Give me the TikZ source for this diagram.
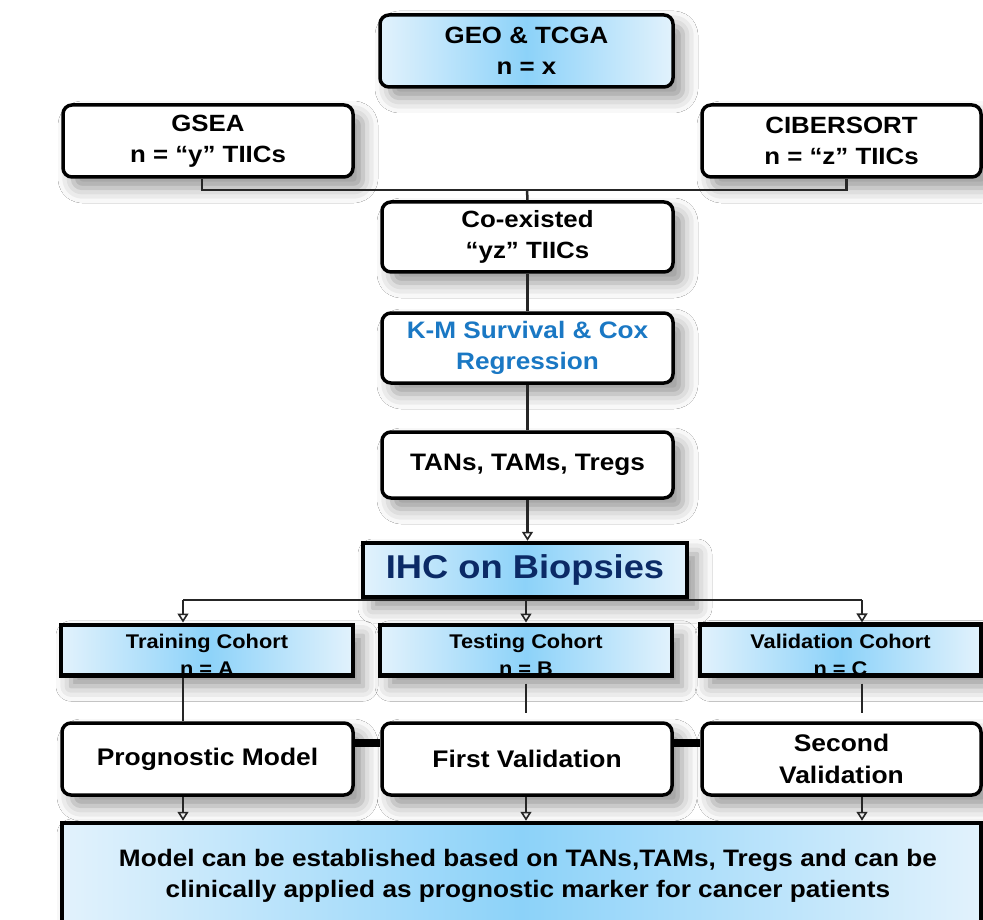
\documentclass[tikz,border=0pt]{standalone}
\usepackage{fontspec}
\setmainfont{Liberation Sans}[FakeStretch=1.1]
\usetikzlibrary{arrows.meta,shadows.blur}
\definecolor{edgeblue}{HTML}{E2F2FC}
\definecolor{midblue}{HTML}{8CD2F9}
\definecolor{kmblue}{HTML}{1A78C4}
\definecolor{ihcblue}{HTML}{0B2A66}
\tikzset{
  shad/.style={blur shadow={shadow xshift=10pt, shadow yshift=-11pt, shadow blur radius=15pt, shadow opacity=42}},
  rbox/.style={draw=black, line width=3.5pt, rounded corners=9pt, fill=white, align=center, inner sep=0pt, shad,
    font=\bfseries\fontsize{23.5}{31}\selectfont},
  gbox/.style={left color=edgeblue, right color=edgeblue, middle color=midblue},
  sbox/.style={draw=black, line width=4.5pt, align=center, inner sep=0pt, shad, gbox},
  cohort/.style={sbox, minimum height=50pt, font=\bfseries\fontsize{19.8}{26.5}\selectfont},
  conn/.style={draw=black!85, line width=2.5pt},
  arr/.style={conn, -{Triangle[open, length=9pt, width=11pt, line width=1.6pt]}},
  link/.style={draw=black, line width=8pt}
}
\newcommand{\cstrut}{\rule{0pt}{24pt}}
\begin{document}
\begin{tikzpicture}[x=1pt, y=1pt]
\useasboundingbox (0,0) rectangle (983,-920);
\fill[white] (0,0) rectangle (983,-920);

% top
\node[rbox, gbox, minimum width=293pt, minimum height=72pt] (geo) at (526.5,-51) {GEO \& TCGA\\n = x};
\node[rbox, minimum width=290pt, minimum height=72pt] (gsea) at (208,-141) {GSEA\\n = “y” TIICs};
\node[rbox, minimum width=279pt, minimum height=72pt] (cib) at (841.5,-141) {CIBERSORT\\n = “z” TIICs};
\node[rbox, minimum width=291pt, minimum height=70pt] (co) at (527.5,-237) {Co-existed\\“yz” TIICs};
\node[rbox, minimum width=291pt, minimum height=70pt, text=kmblue, font=\bfseries\fontsize{23.8}{31}\selectfont] (km) at (527.5,-348) {K-M Survival \& Cox\\Regression};
\node[rbox, minimum width=291pt, minimum height=66pt, font=\bfseries\fontsize{23.8}{31}\selectfont] (tans) at (527.5,-465) {TANs, TAMs, Tregs};

\node[sbox, minimum width=324pt, minimum height=54pt, text=ihcblue, font=\bfseries\fontsize{33}{38}\selectfont] (ihc) at (525,-570) {IHC on Biopsies};

% cohorts
\node[cohort, minimum width=292pt] (train) at (207,-650) {\cstrut Training Cohort\\n = A};
\node[cohort, minimum width=292pt] (test) at (526,-650) {\cstrut Testing Cohort\\n = B};
\node[cohort, minimum width=281pt] (valid) at (840.5,-650) {\cstrut Validation Cohort\\n = C};

% results row
\node[rbox, minimum width=291pt, minimum height=72pt, font=\bfseries\fontsize{24}{32}\selectfont] (prog) at (207.5,-759) {Prognostic Model};
\node[rbox, minimum width=290pt, minimum height=72pt, font=\bfseries\fontsize{24}{32}\selectfont] (first) at (527,-759) {First Validation};
\node[rbox, minimum width=279pt, minimum height=72pt, font=\bfseries\fontsize{24}{32}\selectfont] (second) at (841.5,-759) {Second\\Validation};

% bottom
\node[sbox, minimum width=919pt, minimum height=112pt] (final) at (521.5,-879) {};
\node[align=center, font=\bfseries\fontsize{23.8}{31}\selectfont, inner sep=0pt] (finaltext) at (528,-876) {Model can be established based on TANs,TAMs, Tregs and can be\\clinically applied as prognostic marker for cancer patients};

% connectors
\coordinate (j) at (527,-190);
\coordinate (bl) at (183,-600);
\coordinate (bm) at (526,-600);
\coordinate (br) at (862,-600);
\draw[conn] ([xshift=-6pt]gsea.south) |- (j);
\draw[conn] (j) -| ([xshift=5pt]cib.south);
\draw[conn] (j) -- (co.north);
\draw[conn] (co.south) -- (km.north);
\draw[conn] (km.south) -- (tans.north);
\draw[arr] (tans.south) -- (ihc.north -| tans.south);
\draw[conn] (bl) -- (br);
\draw[arr] (bl) -- (train.north -| bl);
\draw[arr] (bm) -- (test.north -| bm);
\draw[arr] (br) -- (valid.north -| br);
\draw[conn] (train.south -| bl) -- (prog.north -| bl);
\draw[conn] ([yshift=-6pt]test.south -| bm) -- ([yshift=8pt]first.north -| bm);
\draw[conn] ([yshift=-6pt]valid.south -| br) -- ([yshift=8pt]second.north -| br);
\draw[link] ([yshift=16pt]prog.east) -- ([yshift=16pt]first.west);
\draw[link] ([yshift=16pt]first.east) -- ([yshift=16pt]second.west);
\draw[arr] (prog.south -| bl) -- (final.north -| bl);
\draw[arr] (first.south -| bm) -- (final.north -| bm);
\draw[arr] (second.south -| br) -- (final.north -| br);
\end{tikzpicture}
\end{document}
